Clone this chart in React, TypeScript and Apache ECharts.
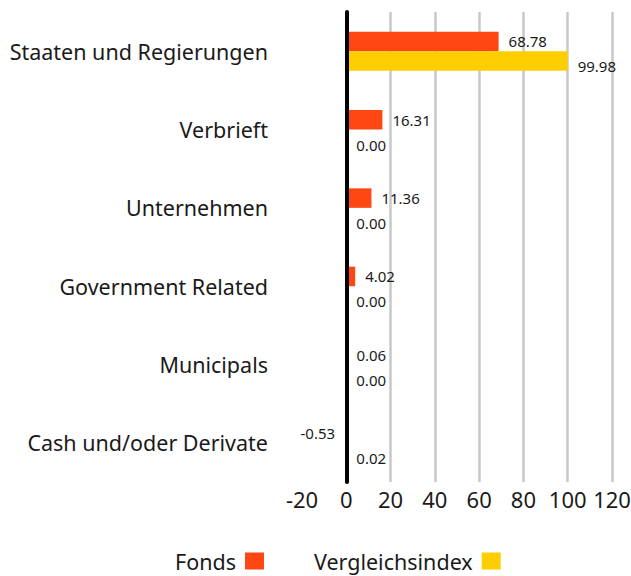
import React, { useEffect, useRef } from "react";
import * as echarts from "echarts";

const categories = [
  "Staaten und Regierungen",
  "Verbrieft",
  "Unternehmen",
  "Government Related",
  "Municipals",
  "Cash und/oder Derivate",
];
const fondsValues = [68.78, 16.31, 11.36, 4.02, 0.06, -0.53];
const indexValues = [99.98, 0.0, 0.0, 0.0, 0.0, 0.02];
const seriesNames = ["Fonds", "Vergleichsindex"];
const xTicks = { min: -20, max: 120, interval: 20 };

const FONT = "'Noto Sans', sans-serif";

export default function App() {
  const ref = useRef<HTMLDivElement>(null);
  useEffect(() => {
    if (!ref.current) return;
    const chart = echarts.init(ref.current, null, { renderer: "svg" });
    const label = (dy: number) => ({
      show: true,
      position: "right" as const,
      distance: 10,
      offset: [0, dy],
      fontSize: 15,
      fontFamily: FONT,
      color: "#1a1a1a",
      formatter: (p: any) => Number(p.value).toFixed(2),
    });
    const makeData = (vals: number[], dy: number) =>
      vals.map((v) =>
        v < 0
          ? { value: v, label: { position: "left" as const, offset: [0, dy] } }
          : v
      );
    chart.setOption({
      animation: false,
      textStyle: { fontFamily: FONT },
      grid: {
        left: 302,
        right: 19,
        top: 12,
        bottom: 94,
        containLabel: false,
        outerBoundsMode: "none",
      },
      legend: {
        data: seriesNames,
        bottom: 4,
        left: 175,
        padding: 0,
        align: "right",
        itemWidth: 19,
        itemHeight: 17,
        itemGap: 50,
        icon: "rect",
        textStyle: {
          fontSize: 21.5,
          lineHeight: 22,
          color: "#1a1a1a",
          fontFamily: FONT,
          padding: [0, 4, 0, 0],
        },
      },
      xAxis: {
        type: "value",
        min: xTicks.min,
        max: xTicks.max,
        interval: xTicks.interval,
        axisLine: { show: false },
        axisTick: { show: false },
        axisLabel: { fontSize: 22, color: "#1a1a1a", margin: 6, fontFamily: FONT },
        splitLine: {
          show: true,
          showMinLine: false,
          lineStyle: { color: "#c8c8c8", width: 2.5 },
        },
      },
      yAxis: {
        type: "category",
        data: categories,
        inverse: true,
        z: 5,
        axisLine: { show: true, onZero: true, lineStyle: { color: "#000", width: 4 } },
        axisTick: { show: false },
        axisLabel: { fontSize: 21.5, color: "#1a1a1a", margin: 34, fontFamily: FONT },
        splitLine: { show: false },
      },
      series: [
        {
          name: seriesNames[0],
          type: "bar",
          data: makeData(fondsValues, 0),
          barWidth: 19.5,
          barGap: "0%",
          itemStyle: { color: "#ff4713" },
          label: label(0),
        },
        {
          name: seriesNames[1],
          type: "bar",
          data: makeData(indexValues, 5.5),
          barWidth: 19.5,
          barGap: "0%",
          itemStyle: { color: "#ffce00" },
          label: label(5.5),
        },
      ],
    });
    return () => chart.dispose();
  }, []);
  return (
    <div
      ref={ref}
      style={{ position: "absolute", left: 0, top: 0, width: 631, height: 576 }}
    />
  );
}
